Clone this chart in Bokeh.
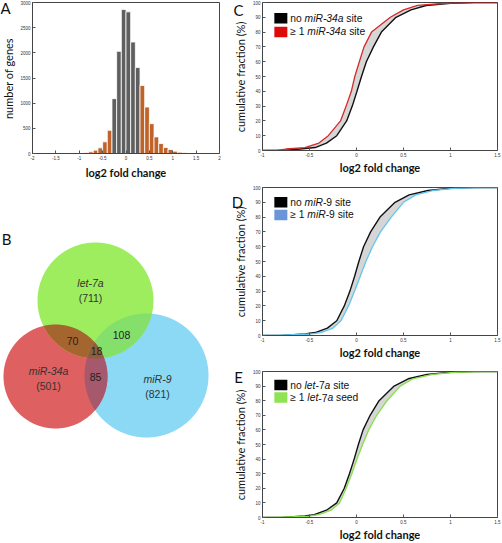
import numpy as np
from bokeh.plotting import figure
from bokeh.layouts import row, column
from bokeh.models import Range1d, FixedTicker
from bokeh.core.properties import value
from bokeh.embed import file_html
from bokeh.resources import INLINE

# ---------------- data ----------------
# Panel A: histogram of log2 fold change (bins of width 0.1)
hist_bin_left = [-1.1, -1.0, -0.9, -0.8, -0.7, -0.6, -0.5, -0.4, -0.3, -0.2, -0.1, 0.0,
                 0.1, 0.2, 0.3, 0.4, 0.5, 0.6, 0.7, 0.8, 0.9, 1.0, 1.1, 1.2, 1.3, 1.4, 1.5, 1.6]
hist_bin_width = 0.1
hist_counts = [5, 10, 20, 33, 66, 112, 231, 461, 1090, 2030, 2860, 2814, 2214, 1707,
               1351, 923, 593, 330, 198, 119, 79, 46, 26, 15, 8, 5, 5, 3]
hist_core = (-0.3, 0.3)   # bins inside this interval are drawn grey
hist_xticks = [-2, -1.5, -1, -0.5, 0, 0.5, 1, 1.5, 2]
hist_xtick_labels = ["-2", "-1.5", "-1", "-0.5", "0", "0.5", "1", "1.5", "2"]
hist_yticks = [0, 500, 1000, 1500, 2000, 2500, 3000]
hist_ytick_labels = ["0", "500", "1000", "1500", "2000", "2500", "3000"]

# Panel B: Venn diagram
venn_names = ["let-7a", "miR-34a", "miR-9"]
venn_totals = [711, 501, 821]
venn_let7a_mir34a = 70
venn_let7a_mir9 = 108
venn_mir34a_mir9 = 85
venn_all_three = 18

# Panels C-E: cumulative fraction curves (x value of log2 FC at each percentile)
ecdf_pct = [0, 0, 1, 2, 5, 10, 20, 30, 40, 50, 60, 70, 80, 90, 95, 98, 99.5, 100, 100]
c_no_site = [-1, -0.78, -0.6, -0.44, -0.32, -0.21, -0.105, -0.045, 0.005, 0.053, 0.105, 0.18, 0.265, 0.42, 0.58, 0.74, 1.0, 1.25, 1.5]
c_site = [-1, -0.85, -0.75, -0.55, -0.4, -0.3, -0.17, -0.11, -0.055, -0.018, 0.03, 0.08, 0.16, 0.36, 0.5, 0.65, 0.95, 1.25, 1.5]
d_no_site = [-1, -0.8, -0.55, -0.44, -0.31, -0.21, -0.13, -0.07, -0.02, 0.025, 0.075, 0.15, 0.25, 0.41, 0.56, 0.76, 1.0, 1.25, 1.5]
d_site = [-1, -0.85, -0.5, -0.38, -0.25, -0.165, -0.085, -0.02, 0.04, 0.1, 0.17, 0.255, 0.37, 0.5, 0.63, 0.82, 1.05, 1.3, 1.5]
e_no_site = [-1, -0.8, -0.55, -0.45, -0.32, -0.21, -0.13, -0.075, -0.025, 0.02, 0.07, 0.145, 0.24, 0.4, 0.55, 0.75, 1.0, 1.25, 1.5]
e_site = [-1, -0.85, -0.5, -0.4, -0.27, -0.18, -0.11, -0.05, 0.005, 0.065, 0.13, 0.215, 0.325, 0.465, 0.6, 0.81, 1.05, 1.3, 1.5]
cdf_xticks = [-1, -0.5, 0, 0.5, 1, 1.5]
cdf_xtick_labels = ["-1", "-0.5", "0", "0.5", "1", "1.5"]
cdf_yticks = [0, 10, 20, 30, 40, 50, 60, 70, 80, 90, 100]
cdf_ytick_labels = [str(t) for t in cdf_yticks]

# ---------------- helpers ----------------
LABEL_FONT = "Lato"
SANS = "Liberation Sans"
TICK_FS = "4.5px"

# Arial / Liberation Sans advance widths (per 1000 em)
W = {" ": 278, "n": 556, "o": 556, "s": 500, "i": 222, "t": 278, "e": 556, "m": 833,
     "R": 722, "-": 333, "a": 556, "l": 222, "d": 556, "\u2265": 549, "0": 556, "1": 556,
     "2": 556, "3": 556, "4": 556, "5": 556, "6": 556, "7": 556, "8": 556, "9": 556}


def twidth(s, fs):
    return sum(W.get(ch, 556) for ch in s) * fs / 1000.0


def to_data(rx, ry, frame, xr, yr):
    l, t, w, h = frame
    x = xr[0] + (rx - l) / w * (xr[1] - xr[0])
    y = yr[1] - (ry - t) / h * (yr[1] - yr[0])
    return x, y


def style_axes(p, xt, xl, yt, yl, xlabel, xstand):
    p.xaxis.ticker = FixedTicker(ticks=xt)
    p.xaxis.major_label_overrides = dict(zip(xt, xl))
    p.yaxis.ticker = FixedTicker(ticks=yt)
    p.yaxis.major_label_overrides = dict(zip(yt, yl))
    p.xaxis.axis_label = xlabel
    p.xaxis.axis_label_text_font_style = "bold"
    p.xaxis.axis_label_standoff = xstand
    for ax in p.axis:
        ax.major_tick_in = 3
        ax.major_tick_out = 0
        ax.minor_tick_line_color = None
        ax.major_tick_line_color = "#555555"
        ax.axis_line_color = "#444444"
        ax.major_label_text_font = SANS
        ax.major_label_text_font_size = TICK_FS
        ax.major_label_text_color = "#333333"
        ax.major_label_standoff = 2
        ax.axis_label_text_font = LABEL_FONT
        ax.axis_label_text_font_size = "11px"
        ax.axis_label_text_color = "#111111"
    p.xgrid.visible = False
    p.ygrid.visible = False
    p.outline_line_color = "#444444"
    p.outline_line_width = 1


def gutter(x0, x1, top, bottom, frame_top, frame_h, letter, letter_pos, ylabel, ylabel_pos):
    """Narrow strip left of a panel holding the panel letter and the y-axis title."""
    g = figure(width=x1 - x0, height=top + frame_h + bottom,
               x_range=Range1d(x0, x1), y_range=Range1d(frame_top + frame_h, frame_top),
               output_backend="svg", toolbar_location=None,
               min_border_left=0, min_border_right=0, min_border_top=top,
               min_border_bottom=bottom, x_axis_type=None, y_axis_type=None)
    g.grid.visible = False
    g.outline_line_color = None
    g.text(x=[letter_pos[0]], y=[letter_pos[1]], text=[letter], text_font=value(LABEL_FONT),
           text_font_size="15px", text_align="center", text_baseline="middle",
           text_color="#111111")
    g.text(x=[ylabel_pos[0]], y=[ylabel_pos[1]], text=[ylabel], angle=np.pi / 2,
           text_font=value(LABEL_FONT), text_font_size="11px", text_align="center",
           text_baseline="middle", text_color="#111111")
    return g


# ---------------- Panel A ----------------
A_xr, A_yr = (-2, 2), (0, 3000)
pA = figure(width=215, height=185, x_range=Range1d(*A_xr), y_range=Range1d(*A_yr),
            output_backend="svg", toolbar_location=None,
            min_border_left=10, min_border_right=13, min_border_top=2, min_border_bottom=32)
lefts = np.array(hist_bin_left)
colors = ["#5f5f5f" if (l >= hist_core[0] - 1e-9 and l < hist_core[1] - 1e-9) else "#c0632b"
          for l in hist_bin_left]
pA.quad(left=lefts, right=lefts + hist_bin_width, bottom=0, top=hist_counts,
        fill_color=colors, line_color="white", line_width=0.8)
style_axes(pA, hist_xticks, hist_xtick_labels, hist_yticks, hist_ytick_labels,
           "log2 fold change", 3)
gA = gutter(0, 17, 2, 32, 2, 151, "A", (5, 7), "number of genes", (8, 78))

# ---------------- Panel B (Venn) ----------------
pB = figure(width=232, height=358, x_range=Range1d(0, 232), y_range=Range1d(543, 185),
            output_backend="svg", toolbar_location=None,
            min_border_left=0, min_border_right=0, min_border_top=0, min_border_bottom=0,
            x_axis_type=None, y_axis_type=None)
pB.grid.visible = False
pB.outline_line_color = None

circ_green = (95, 300, 58)
circ_red = (55, 376, 52)
circ_blue = (146, 375, 62)


def circle_pts(c, n=720):
    t = np.linspace(0, 2 * np.pi, n, endpoint=False)
    return c[0] + c[2] * np.cos(t), c[1] + c[2] * np.sin(t)


def region(cs):
    xs, ys = [], []
    for i, c in enumerate(cs):
        x, y = circle_pts(c)
        m = np.ones_like(x, dtype=bool)
        for j, d in enumerate(cs):
            if j != i:
                m &= (x - d[0]) ** 2 + (y - d[1]) ** 2 <= d[2] ** 2
        xs.append(x[m]); ys.append(y[m])
    x = np.concatenate(xs); y = np.concatenate(ys)
    cx, cy = x.mean(), y.mean()
    o = np.argsort(np.arctan2(y - cy, x - cx))
    return list(x[o]), list(y[o])


shapes = [
    (circle_pts(circ_blue), "#8cd9f6"),
    (circle_pts(circ_red), "#df6060"),
    (circle_pts(circ_green), "#9ded5f"),
    (region([circ_red, circ_green]), "#a5652e"),
    (region([circ_green, circ_blue]), "#84e06a"),
    (region([circ_red, circ_blue]), "#a6586c"),
    (region([circ_red, circ_green, circ_blue]), "#8f5f3a"),
]
pB.patches(xs=[list(s[0][0]) for s in shapes], ys=[list(s[0][1]) for s in shapes],
           fill_color=[s[1] for s in shapes], line_color=None)

vfs = "10.5px"
name_pos = [(90, 282), (48, 370), (157, 378)]
tot_pos = [(90, 297), (48, 385), (157, 393)]
pB.text(x=[p[0] for p in name_pos], y=[p[1] for p in name_pos], text=venn_names,
        text_font=value(SANS), text_font_size=vfs, text_font_style="italic",
        text_align="center", text_baseline="middle", text_color="#333333")
pB.text(x=[p[0] for p in tot_pos], y=[p[1] for p in tot_pos],
        text=["(%d)" % v for v in venn_totals],
        text_font=value(SANS), text_font_size=vfs,
        text_align="center", text_baseline="middle", text_color="#333333")
ov_pos = [(72, 340), (121, 334), (95, 376), (96, 350)]
ov_vals = [venn_let7a_mir34a, venn_let7a_mir9, venn_mir34a_mir9, venn_all_three]
pB.text(x=[p[0] for p in ov_pos], y=[p[1] for p in ov_pos], text=[str(v) for v in ov_vals],
        text_font=value(SANS), text_font_size=vfs,
        text_align="center", text_baseline="middle", text_color="#222222")
pB.text(x=[6], y=[238], text=["B"], text_font=value(LABEL_FONT), text_font_size="15px",
        text_align="center", text_baseline="middle", text_color="#111111")


# ---------------- Panels C-E ----------------
def cdf_panel(top, bottom, frame, no_site, site, line_col, box_col, leg1, leg2, rows):
    xr, yr = (-1, 1.5), (0, 100)
    p = figure(width=253, height=top + frame[3] + bottom, x_range=Range1d(*xr),
               y_range=Range1d(*yr), output_backend="svg", toolbar_location=None,
               min_border_left=11, min_border_right=5, min_border_top=top,
               min_border_bottom=bottom)
    p.harea(y=ecdf_pct, x1=no_site, x2=site, fill_color="#d6d6d6")
    p.line(x=no_site, y=ecdf_pct, line_color="#111111", line_width=1.4)
    p.line(x=site, y=ecdf_pct, line_color=line_col, line_width=1.3)
    style_axes(p, cdf_xticks, cdf_xtick_labels, cdf_yticks, cdf_ytick_labels,
               "log2 fold change", 1)
    # legend
    fs = 10.3
    for k, (pieces, col) in enumerate([(leg1, "black"), (leg2, box_col)]):
        ry = frame[1] + rows[k]
        bx, by = to_data(frame[0] + 18.5, ry, frame, xr, yr)
        p.rect(x=[bx], y=[by], width=13, height=10.5, width_units="screen",
               height_units="screen", fill_color=col, line_color=None)
        tx, ty = to_data(frame[0] + 28, ry, frame, xr, yr)
        off = 0.0
        for txt, style in pieces:
            core = txt.strip(" ")
            lead = len(txt) - len(txt.lstrip(" "))
            trail = len(txt) - len(txt.rstrip(" "))
            off += twidth(" " * lead, fs)
            p.text(x=[tx], y=[ty], text=[core], x_offset=off, text_font=value(SANS),
                   text_font_size="%gpx" % fs, text_font_style=style,
                   text_align="left", text_baseline="middle", text_color="#111111")
            off += twidth(core, fs) + twidth(" " * trail, fs)
    return p


I, N = "italic", "normal"
pC = cdf_panel(2, 23, (260, 2, 237, 151), c_no_site, c_site, "#d42a2a", "#dd0a0a",
               [("no ", N), ("miR-34a", I), (" site", N)],
               [("\u2265 1 ", N), ("miR-34a", I), (" site", N)], (16, 30))
gC = gutter(232, 249, 2, 23, 2, 151, "C", (238, 10), "cumulative fraction (%)", (240, 78))
pD = cdf_panel(11, 23, (260, 187, 237, 151), d_no_site, d_site, "#62c6ee", "#6a95d8",
               [("no ", N), ("miR", I), ("-9 site", N)],
               [("\u2265 1 ", N), ("miR", I), ("-9 site", N)], (15, 28))
gD = gutter(232, 249, 11, 23, 187, 151, "D", (237, 202), "cumulative fraction (%)", (240, 263))
pE = cdf_panel(10, 21, (260, 371, 237, 151), e_no_site, e_site, "#86e04a", "#8ee352",
               [("no ", N), ("let", I), ("-7", N), ("a", I), (" site", N)],
               [("\u2265 1 ", N), ("let", I), ("-7", N), ("a", I), (" seed", N)], (14, 27))
gE = gutter(232, 249, 10, 21, 371, 151, "E", (238, 377), "cumulative fraction (%)", (240, 447))

left = column(row(gA, pA), row(pB))
right = column(row(gC, pC), row(gD, pD), row(gE, pE))
layout = row(left, right)
open("out.html", "w").write(file_html(layout, INLINE))
